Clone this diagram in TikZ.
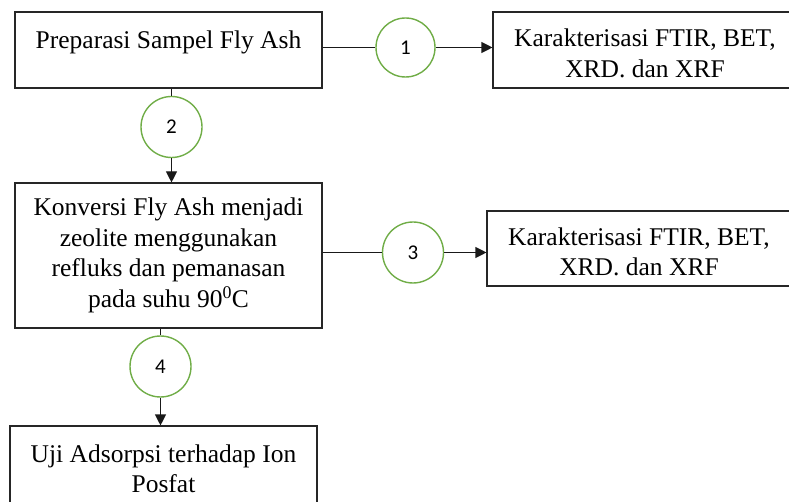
\documentclass[tikz,border=0pt]{standalone}
\usepackage{fontspec}
\setmainfont{Liberation Serif}
\newfontfamily\numFont{Carlito}
\usetikzlibrary{arrows.meta,positioning}

\definecolor{stepGreen}{RGB}{112,173,71}

\tikzset{
    flowBox/.style={draw=black!85, line width=1.1pt, rectangle, align=center,
        font=\fontsize{25.5}{30.5}\selectfont, inner sep=0pt},
    stepCircle/.style={draw=stepGreen, line width=1.4pt, circle, fill=white,
        minimum size=61pt, inner sep=0pt, font=\numFont\fontsize{21}{21}\selectfont},
    flowLine/.style={line width=1.1pt, black!90},
    flowArrow/.style={flowLine, -{Triangle[length=11pt,width=11pt]}}
}

\begin{document}
\begin{tikzpicture}[x=1pt, y=-1pt]
    % Page size
    \useasboundingbox (0,0) rectangle (789,502);
    \clip (0,0) rectangle (789,502);

    % variables
    \def\boxWidth{307}
    \def\sideWidth{304}

    % Left column
    \node[flowBox, minimum width=\boxWidth, minimum height=76, text depth=20pt] (prep) at (168.5, 50) {Preparasi Sampel Fly Ash};
    \node[flowBox, minimum width=\boxWidth, minimum height=145] (konv) at (168.5, 255.5)
        {Konversi Fly Ash menjadi\\zeolite menggunakan\\refluks dan pemanasan\\pada suhu 90\textsuperscript{0}C};
    \node[flowBox, minimum width=\boxWidth, minimum height=86] (uji) at (163.5, 469)
        {Uji Adsorpsi terhadap Ion\\Posfat};

    % Right column
    \node[flowBox, minimum width=\sideWidth, minimum height=76, text height=55pt] (karA) at (645, 50)
        {Karakterisasi FTIR, BET,\\XRD. dan XRF};
    \node[flowBox, minimum width=\sideWidth, minimum height=75, text height=55pt] (karB) at (639, 248.5)
        {Karakterisasi FTIR, BET,\\XRD. dan XRF};

    % Steps
    \node[stepCircle, minimum size=59pt] (stepA) at (405.5, 47.5) {1};
    \node[stepCircle] (stepB) at (171.5, 127) {2};
    \node[stepCircle] (stepC) at (413, 252.5) {3};
    \node[stepCircle] (stepD) at (160.5, 366.5) {4};

    % Connectors
    \draw[flowLine] (prep.east |- stepA) -- (stepA);
    \draw[flowArrow] (stepA) -- (stepA -| karA.west);
    \draw[flowLine] (prep.south -| stepB) -- (stepB);
    \draw[flowArrow] (stepB) -- (stepB |- konv.north);
    \draw[flowLine] (konv.east |- stepC) -- (stepC);
    \draw[flowArrow] (stepC) -- (stepC -| karB.west);
    \draw[flowLine] (konv.south -| stepD) -- (stepD);
    \draw[flowArrow] (stepD) -- (stepD |- uji.north);
\end{tikzpicture}
\end{document}
